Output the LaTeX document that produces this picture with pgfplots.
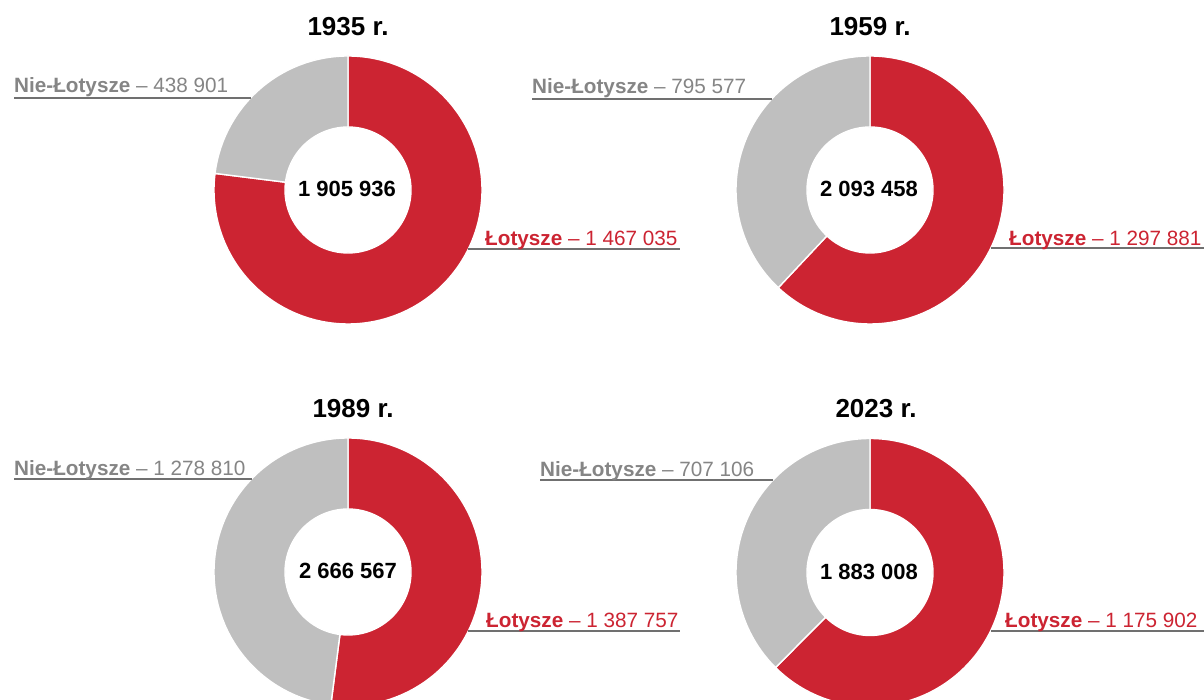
\documentclass[border=0pt]{standalone}
\usepackage{pgfplots}
\pgfplotsset{compat=1.18}
\usepackage{fontspec}
\setmainfont{Liberation Sans}
\definecolor{cred}{HTML}{CC2432}
\definecolor{cgray}{HTML}{BFBFBF}
\definecolor{tgray}{HTML}{858585}
\definecolor{lgray}{HTML}{707070}
\pgfplotsset{donutax/.style={hide axis, scale only axis, width=268pt, height=268pt,
  xmin=-1,xmax=1,ymin=-1,ymax=1, anchor=center, clip=false}}
% #1 cx, #2 cy, #3 Lotysze, #4 Nie-Lotysze
\newcommand{\donut}[4]{%
  \pgfkeys{/pgf/fpu=true,/pgf/fpu/output format=fixed}%
  \pgfmathsetmacro\angB{90-360*#3/(#3+#4)}%
  \pgfkeys{/pgf/fpu=false}%
  \begin{axis}[donutax, at={(#1,#2)}]
    \addplot[fill=cred, draw=white, line width=1.4pt, domain=0:401, samples=402, variable=\t]
      ({(\t<200.5 ? 1 : 0.47)*cos(\t<200.5 ? 90+((\angB)-90)*\t/200 : (\angB)-((\angB)-90)*(\t-201)/200)},
       {(\t<200.5 ? 1 : 0.47)*sin(\t<200.5 ? 90+((\angB)-90)*\t/200 : (\angB)-((\angB)-90)*(\t-201)/200)}) -- cycle;
    \addplot[fill=cgray, draw=white, line width=1.4pt, domain=0:401, samples=402, variable=\t]
      ({(\t<200.5 ? 1 : 0.47)*cos(\t<200.5 ? (\angB)+(-270-(\angB))*\t/200 : -270-(-270-(\angB))*(\t-201)/200)},
       {(\t<200.5 ? 1 : 0.47)*sin(\t<200.5 ? (\angB)+(-270-(\angB))*\t/200 : -270-(-270-(\angB))*(\t-201)/200)}) -- cycle;
  \end{axis}}
\begin{document}
\begin{tikzpicture}
\useasboundingbox (0,0) rectangle (1204pt,700pt);
\clip (0,0) rectangle (1204pt,700pt);
\fill[white] (0,0) rectangle (1204pt,700pt);
\donut{348pt}{510pt}{1467035}{438901}
\donut{870pt}{510pt}{1297881}{795577}
\donut{348pt}{128pt}{1387757}{1278810}
\donut{870pt}{127.5pt}{1175902}{707106}
% titles
\begin{scope}[every node/.style={inner sep=0pt, anchor=base, font=\fontsize{26}{30}\selectfont\bfseries}]
\node at (348pt,664pt) {1935 r.};
\node at (870pt,664pt) {1959 r.};
\node at (353pt,282pt) {1989 r.};
\node at (876pt,282pt) {2023 r.};
\end{scope}
% centre totals
\begin{scope}[every node/.style={inner sep=0pt, anchor=base, font=\fontsize{22}{26}\selectfont\bfseries}]
\node at (347pt,503pt) {1 905 936};
\node at (869pt,503pt) {2 093 458};
\node at (348pt,121pt) {2 666 567};
\node at (869pt,120.5pt) {1 883 008};
\end{scope}
% underlines
\begin{scope}[lgray, line width=1.5pt]
\draw (14pt,602pt) -- (250.6pt,602pt);
\draw (468.3pt,451pt) -- (680pt,451pt);
\draw (532pt,601pt) -- (771.6pt,601pt);
\draw (990.8pt,452pt) -- (1204pt,452pt);
\draw (14pt,221pt) -- (251.5pt,221pt);
\draw (468.3pt,69pt) -- (680pt,69pt);
\draw (540pt,220pt) -- (773pt,220pt);
\draw (990.6pt,69pt) -- (1204pt,69pt);
\end{scope}
% labels
\begin{scope}[every node/.style={inner sep=0pt, anchor=base west, font=\fontsize{20.7}{25}\selectfont}]
\node[tgray] at (14pt,607pt) {\textbf{Nie-Łotysze} – 438 901};
\node[cred] at (485pt,454pt) {\textbf{Łotysze} – 1 467 035};
\node[tgray] at (532pt,606pt) {\textbf{Nie-Łotysze} – 795 577};
\node[cred] at (1009pt,454pt) {\textbf{Łotysze} – 1 297 881};
\node[tgray] at (14pt,224pt) {\textbf{Nie-Łotysze} – 1 278 810};
\node[cred] at (486pt,72pt) {\textbf{Łotysze} – 1 387 757};
\node[tgray] at (540pt,223pt) {\textbf{Nie-Łotysze} – 707 106};
\node[cred] at (1005pt,72pt) {\textbf{Łotysze} – 1 175 902};
\end{scope}
\end{tikzpicture}
\end{document}
